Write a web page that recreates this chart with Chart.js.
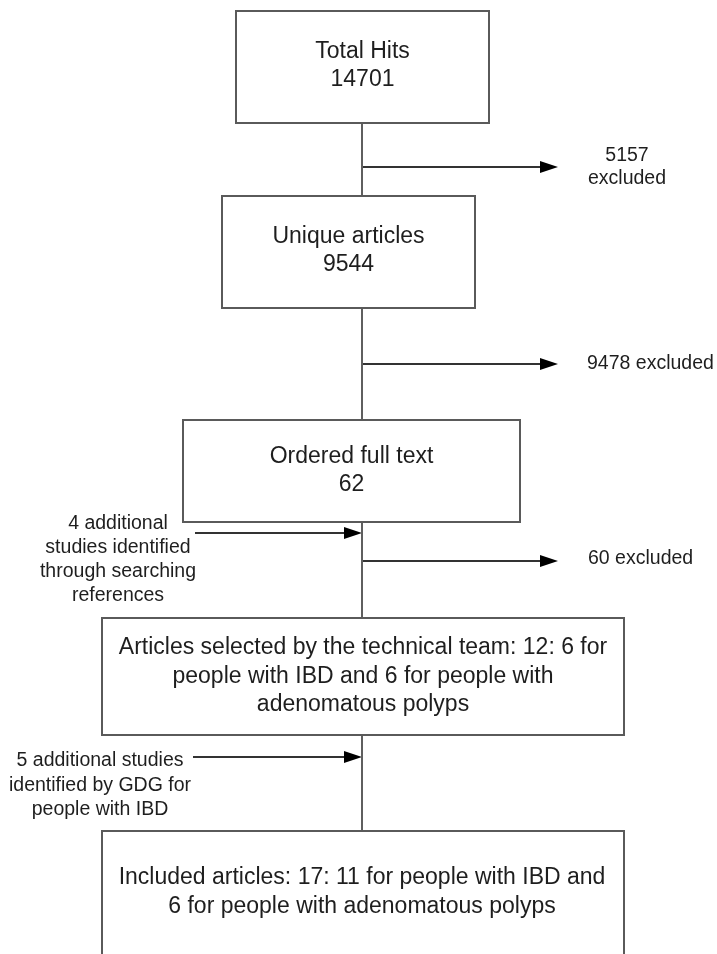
<!DOCTYPE html>
<html>
<head>
<meta charset="utf-8">
<script src="https://cdn.jsdelivr.net/npm/chart.js@4.4.1/dist/chart.umd.min.js"></script>
<style>
  html, body { margin: 0; padding: 0; background: #fff; }
  #myChart { display: block; }
</style>
</head>
<body>
<canvas id="myChart" width="717" height="954"></canvas>
<script>
// values
const stageNames = ['Total Hits', 'Unique articles', 'Ordered full text', 'Articles selected by the technical team', 'Included articles']
const stageCounts = [14701, 9544, 62, 12, 17]
const ibdCounts = [6, 11]
const polypCounts = [6, 6]
const excludedCounts = [5157, 9478, 60]
const addedCounts = [4, 5]

// layout (pixels on a 717 x 954 grid)
const trunkX = 362
const boxes = [
  {left: 236, top: 11, right: 489, bottom: 123, cx: 362.5, ys: [52, 80]},
  {left: 222, top: 196, right: 475, bottom: 308, cx: 348.5, ys: [237, 265]},
  {left: 183, top: 420, right: 520, bottom: 522, cx: 351.5, ys: [457, 485]},
  {left: 102, top: 618, right: 624, bottom: 735, cx: 363, ys: [648, 677, 705]},
  {left: 102, top: 831, right: 624, bottom: 960, cx: 362, ys: [878, 907]}
]
const outArrows = [{y: 167, from: trunkX, to: 558}, {y: 364, from: trunkX, to: 558}, {y: 561, from: trunkX, to: 558}]
const inArrows = [{y: 533, from: 195, to: trunkX}, {y: 757, from: 193, to: trunkX}]

const boxLines = [
  [stageNames[0], String(stageCounts[0])],
  [stageNames[1], String(stageCounts[1])],
  [stageNames[2], String(stageCounts[2])],
  [`${stageNames[3]}: ${stageCounts[3]}: ${ibdCounts[0]} for`, `people with IBD and ${polypCounts[0]} for people with`, 'adenomatous polyps'],
  [`${stageNames[4]}: ${stageCounts[4]}: ${ibdCounts[1]} for people with IBD and`, `${polypCounts[1]} for people with adenomatous polyps`]
]
const sideLabels = [
  {lines: [String(excludedCounts[0]), 'excluded'], x: 627, ys: [156, 179], align: 'center'},
  {lines: [`${excludedCounts[1]} excluded`], x: 587, ys: [364], align: 'left'},
  {lines: [`${excludedCounts[2]} excluded`], x: 588, ys: [559], align: 'left'},
  {lines: [`${addedCounts[0]} additional`, 'studies identified', 'through searching', 'references'], x: 118, ys: [524, 548, 572, 596], align: 'center'},
  {lines: [`${addedCounts[1]} additional studies`, 'identified by GDG for', 'people with IBD'], x: 100, ys: [761, 786, 810], align: 'center'}
]

const headLen = 18
const makeHead = function () {
  const c = document.createElement('canvas')
  c.width = headLen
  c.height = 12
  const g = c.getContext('2d')
  g.fillStyle = '#000'
  g.beginPath()
  g.moveTo(0, 0)
  g.lineTo(headLen, 6)
  g.lineTo(0, 12)
  g.closePath()
  g.fill()
  return c
}
const arrowHead = makeHead()

const arrowDataset = function (a) {
  return {
    data: [{x: a.from, y: a.y}, {x: a.to - headLen / 2, y: a.y}],
    showLine: true,
    borderColor: '#333',
    borderWidth: 2,
    pointRadius: [0, 9],
    pointStyle: ['circle', arrowHead]
  }
}

const datasets = [{
  data: [{x: trunkX, y: boxes[0].bottom}, {x: trunkX, y: boxes[4].top}],
  showLine: true,
  borderColor: '#5f5f5f',
  borderWidth: 2,
  pointRadius: 0
}]
outArrows.forEach((a) => datasets.push(arrowDataset(a)))
inArrows.forEach((a) => datasets.push(arrowDataset(a)))

const boxPlugin = {
  id: 'boxes',
  afterDatasetsDraw: function (chart) {
    const ctx = chart.ctx
    const xs = chart.scales.x
    const ys = chart.scales.y
    ctx.save()
    boxes.forEach((b, i) => {
      const l = xs.getPixelForValue(b.left)
      const r = xs.getPixelForValue(b.right)
      const t = ys.getPixelForValue(b.top)
      const btm = ys.getPixelForValue(b.bottom)
      ctx.fillStyle = '#fff'
      ctx.fillRect(l, t, r - l, btm - t)
      ctx.strokeStyle = '#5a5a5a'
      ctx.lineWidth = 2
      ctx.strokeRect(l, t, r - l, btm - t)
      ctx.fillStyle = '#1e1e1e'
      ctx.font = '23px "Liberation Sans", Arial, sans-serif'
      ctx.textAlign = 'center'
      ctx.textBaseline = 'middle'
      boxLines[i].forEach((line, j) => {
        ctx.fillText(line, xs.getPixelForValue(b.cx), ys.getPixelForValue(b.ys[j]))
      })
    })
    ctx.font = '19.5px "Liberation Sans", Arial, sans-serif'
    sideLabels.forEach((s) => {
      ctx.textAlign = s.align
      s.lines.forEach((line, j) => {
        ctx.fillText(line, xs.getPixelForValue(s.x), ys.getPixelForValue(s.ys[j]))
      })
    })
    ctx.restore()
  }
}

const ctx = document.getElementById('myChart').getContext('2d')
const chart = new Chart(ctx, {
  type: 'scatter',
  data: {datasets: datasets},
  options: {
    responsive: false,
    devicePixelRatio: 1,
    animation: false,
    events: [],
    layout: {padding: 0, autoPadding: false},
    plugins: {legend: {display: false}, tooltip: {enabled: false}},
    scales: {
      x: {type: 'linear', min: 0, max: 717, display: false},
      y: {type: 'linear', min: 0, max: 954, reverse: true, display: false}
    }
  },
  plugins: [boxPlugin]
})
</script>
</body>
</html>
